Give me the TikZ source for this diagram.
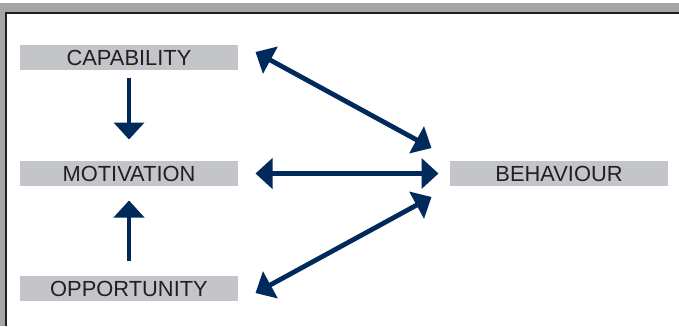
\documentclass[tikz,border=0pt]{standalone}
\usepackage{fontspec}
\setmainfont{Liberation Sans}
\usetikzlibrary{arrows.meta,calc}

\definecolor{navyarrow}{RGB}{0,42,92}
\definecolor{boxgray}{RGB}{196,197,201}
\definecolor{framegray}{RGB}{166,166,166}
\definecolor{darkline}{RGB}{35,31,32}

\tikzset{every picture/.style={line width=0.75pt}}
\tikzset{
  factorbox/.style={fill=boxgray, text=darkline, inner sep=0pt, minimum width=163.5pt, minimum height=18.75pt, font=\fontsize{16.4}{18}\selectfont},
  linkarrow/.style={draw=navyarrow, line width=3.6pt, -{Triangle[length=12.75pt,width=22.5pt]}},
  botharrow/.style={linkarrow, {Triangle[length=12.75pt,width=22.5pt]}-{Triangle[length=12.75pt,width=22.5pt]}}
}

\begin{document}
\begin{tikzpicture}[x=0.75pt,y=0.75pt,yscale=-1,xscale=1]
\useasboundingbox (0,0) rectangle (679,326);
%Shape: Frame
\fill [framegray] (0,3) rectangle (679,326);
\fill [white] (6,13) rectangle (679,326);
\draw [darkline, line width=1.5pt] (6,326) -- (6,13) -- (679,13);
% Text Node
\node [factorbox] (cap) at (129,57.5) {CAPABILITY};
% Text Node
\node [factorbox] (mot) at (129,173.5) {MOTIVATION};
% Text Node
\node [factorbox] (opp) at (129,288.5) {OPPORTUNITY};
% Text Node
\node [factorbox] (beh) at (559,173.5) {BEHAVIOUR};
%Straight Lines
\draw [linkarrow, shorten <=5.25pt, shorten >=15.75pt] (cap.south) -- (mot.north);
%Straight Lines
\draw [linkarrow, shorten <=11.25pt, shorten >=10.5pt] (opp.north) -- (mot.south);
%Straight Lines
\draw [botharrow] ($(cap.east)+(17,-5.5)$) -- ($(beh.west)+(-18,-25.5)$);
%Straight Lines
\draw [botharrow] ($(mot.east)+(17,0)$) -- ($(beh.west)+(-11,0)$);
%Straight Lines
\draw [botharrow] ($(opp.east)+(17,4.5)$) -- ($(beh.west)+(-18,23.5)$);
\end{tikzpicture}
\end{document}
